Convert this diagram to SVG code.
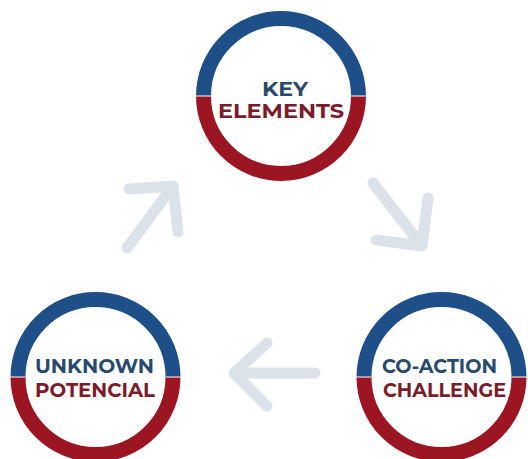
<svg xmlns="http://www.w3.org/2000/svg" width="528" height="459" viewBox="0 0 528 459">
<style>
.blue{fill:none;stroke:#1f4f88;stroke-width:15}
.red{fill:none;stroke:#9c1522;stroke-width:15}
.sep{stroke:#f0d8dc;stroke-width:1.2}
.t{font-family:"Montserrat","Open Sans","Liberation Sans",sans-serif;font-weight:bold;font-size:20px;text-anchor:middle}
.tb{fill:#284a6c}
.tr{fill:#7c1c2a}
.arr{fill:none;stroke:#dce2ea;stroke-width:11;stroke-linecap:round;stroke-linejoin:round}
</style>
<rect width="528" height="459" fill="#ffffff"/>
<g id="connectors">
<path class="arr" d="M127,248 L173,186 M129,189 L173,186 L178,232"/>
<path class="arr" d="M373,183 L422,246 M428,198 L422,246 L376,240"/>
<path class="arr" d="M315,373 L234,373 M267,343 L234,373 L267,406"/>
</g>
<g id="key-elements">
<path class="blue" d="M203.5,96 A77.5,77.5 0 0 1 358.5,96"/>
<path class="red" d="M203.5,96 A77.5,77.5 0 0 0 358.5,96"/>
<line class="sep" x1="196" y1="96" x2="211" y2="96"/>
<line class="sep" x1="351" y1="96" x2="366" y2="96"/>
<text class="t tb" x="285" y="96" textLength="46" lengthAdjust="spacingAndGlyphs">KEY</text>
<text class="t tr" x="281" y="118" textLength="126" lengthAdjust="spacingAndGlyphs">ELEMENTS</text>
</g>
<g id="unknown-potencial">
<path class="blue" d="M18,377 A77.5,77.5 0 0 1 173,377"/>
<path class="red" d="M18,377 A77.5,77.5 0 0 0 173,377"/>
<line class="sep" x1="10" y1="377" x2="25" y2="377"/>
<line class="sep" x1="166" y1="377" x2="181" y2="377"/>
<text class="t tb" x="94.5" y="373" textLength="119" lengthAdjust="spacingAndGlyphs">UNKNOWN</text>
<text class="t tr" x="95" y="397" textLength="120" lengthAdjust="spacingAndGlyphs">POTENCIAL</text>
</g>
<g id="co-action-challenge">
<path class="blue" d="M364,377 A77.5,77.5 0 0 1 519,377"/>
<path class="red" d="M364,377 A77.5,77.5 0 0 0 519,377"/>
<line class="sep" x1="356" y1="377" x2="371" y2="377"/>
<line class="sep" x1="512" y1="377" x2="527" y2="377"/>
<text class="t tb" x="439.5" y="373" textLength="115" lengthAdjust="spacingAndGlyphs">CO-ACTION</text>
<text class="t tr" x="444.5" y="397" textLength="123" lengthAdjust="spacingAndGlyphs">CHALLENGE</text>
</g>
</svg>
